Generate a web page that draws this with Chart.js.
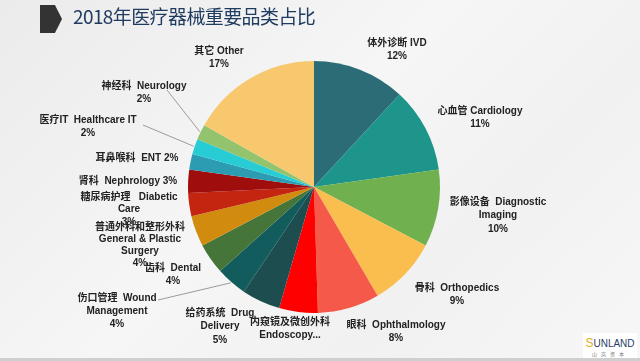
<!DOCTYPE html>
<html>
<head>
<meta charset="utf-8">
<script src="https://cdn.jsdelivr.net/npm/chart.js@4/dist/chart.umd.min.js"></script>
<style>
  body { margin: 0; }
  #wrap {
    position: relative; width: 640px; height: 361px; overflow: hidden;
    background: linear-gradient(135deg, #ebebeb 0%, #f6f6f6 45%, #f1f1f1 70%, #f7f7f7 100%);
  }
  #wrap:after { content: ""; position: absolute; left: 0; right: 0; bottom: 0; height: 3px; background: #cfcfcf; }
  #c { position: absolute; left: 0; top: 0; }
  .mark { position: absolute; left: 40px; top: 5px; width: 22px; height: 28px; background: #333;
    clip-path: polygon(0 0, 68% 0, 100% 50%, 68% 100%, 0 100%); }
  .title { position: absolute; left: 73px; top: 2px; font: 19px "Noto Sans CJK SC", sans-serif;
    letter-spacing: -0.6px; color: #1f3b60; }
  .logo { position: absolute; left: 583px; top: 333px; width: 54px; height: 25px; background: #fff;
    text-align: center; font-family: "Liberation Sans", sans-serif; }
  .logo b { display: block; font-size: 10px; font-weight: normal; color: #2a3d66; margin-top: 3px; letter-spacing: 0; }
  .logo b span { color: #e0b020; font-size: 12px; }
  .logo i { display: block; font-style: normal; font: 5px "Noto Sans CJK SC", sans-serif; color: #777; letter-spacing: 4px; margin-top: 0; }
</style>
</head>
<body>
<div id="wrap">
  <canvas id="c" width="640" height="361"></canvas>
  <div class="mark"></div>
  <div class="title">2018年医疗器械重要品类占比</div>
  <div class="logo"><b><span>S</span>UNLAND</b><i>山岚资本</i></div>
</div>
<script>
// categories, clockwise from 12 o'clock
var categories = ["体外诊断 IVD", "心血管 Cardiology", "影像设备 Diagnostic Imaging", "骨科 Orthopedics",
  "眼科 Ophthalmology", "内窥镜及微创外科 Endoscopy", "给药系统 Drug Delivery", "伤口管理 Wound Management",
  "齿科 Dental", "普通外科和整形外科 General & Plastic Surgery", "糖尿病护理 Diabetic Care",
  "肾科 Nephrology", "耳鼻喉科 ENT", "医疗IT Healthcare IT", "神经科 Neurology", "其它 Other"];
var shares = [12, 11, 10, 9, 8, 5, 5, 4, 4, 4, 3, 3, 2, 2, 2, 17];
var pctLabels = ["12%", "11%", "10%", "9%", "8%", "", "5%", "4%", "4%", "4%", "3%", "3%", "2%", "2%", "2%", "17%"];

var colors = ["#2b6c76", "#1e958a", "#71b04e", "#f9be4e", "#f5594a", "#fe0000", "#1d4d4f", "#125c5e",
  "#46753a", "#d18c10", "#c32511", "#a00d0d", "#2c9cb3", "#27ccd4", "#93c46d", "#f8c86f"];

// how each label wraps on the picture
var labelLines = [
  ["体外诊断 IVD", "12%"],
  ["心血管 Cardiology", "11%"],
  ["影像设备  Diagnostic", "Imaging", "10%"],
  ["骨科  Orthopedics", "9%"],
  ["眼科  Ophthalmology", "8%"],
  ["内窥镜及微创外科", "Endoscopy..."],
  ["给药系统  Drug", "Delivery", "5%"],
  ["伤口管理  Wound", "Management", "4%"],
  ["齿科  Dental", "4%"],
  ["普通外科和整形外科", "General & Plastic", "Surgery", "4%"],
  ["糖尿病护理   Diabetic", "Care", "3%"],
  ["肾科  Nephrology 3%"],
  ["耳鼻喉科  ENT 2%"],
  ["医疗IT  Healthcare IT", "2%"],
  ["神经科  Neurology", "2%"],
  ["其它 Other", "17%"]
];

// label placement relative to the pie centre
var labelOffset = [[83,-144],[166,-76],[184,15],[143,101],[82,138],[-24,135],[-94,126],[-197,111],
  [-141,81],[-174,40],[-185,10],[-186,-6],[-177,-29],[-226,-67],[-170,-101],[-95,-136]];
var lineGap = [13,13,13.5,13.5,13,13,13.5,13,13.5,12,12.5,13,13,13.5,13,13];
// leader line start points (only a few labels have one)
var leaders = { 7: [-156,113], 13: [-171,-62], 14: [-147,-97] };

var sliceLabels = {
  id: 'sliceLabels',
  afterDatasetsDraw(chart) {
    var ctx = chart.ctx;
    var arcs = chart.getDatasetMeta(0).data;
    ctx.save();
    ctx.font = 'bold 10px "Liberation Sans", "Noto Sans CJK SC", sans-serif';
    ctx.fillStyle = '#222';
    ctx.textAlign = 'center';
    ctx.textBaseline = 'middle';
    arcs.forEach(function (arc, i) {
      var x = arc.x + labelOffset[i][0], y = arc.y + labelOffset[i][1];
      labelLines[i].forEach(function (t, j) {
        ctx.fillText(t, x, y + j * lineGap[i]);
      });
      if (leaders[i]) {
        var mid = (arc.startAngle + arc.endAngle) / 2;
        var r = arc.outerRadius + 1;
        ctx.strokeStyle = '#9a9a9a';
        ctx.lineWidth = 1;
        ctx.beginPath();
        ctx.moveTo(arc.x + leaders[i][0], arc.y + leaders[i][1]);
        ctx.lineTo(arc.x + Math.cos(mid) * r, arc.y + Math.sin(mid) * r);
        ctx.stroke();
      }
    });
    ctx.restore();
  }
};

new Chart("c", {
  type: "pie",
  data: {
    labels: categories,
    datasets: [{
      data: shares,
      backgroundColor: colors,
      borderWidth: 0
    }]
  },
  options: {
    responsive: false,
    animation: false,
    layout: { padding: { left: 188, right: 200, top: 61, bottom: 48 } },
    plugins: { legend: { display: false }, tooltip: { enabled: false } }
  },
  plugins: [sliceLabels]
});
</script>
</body>
</html>
